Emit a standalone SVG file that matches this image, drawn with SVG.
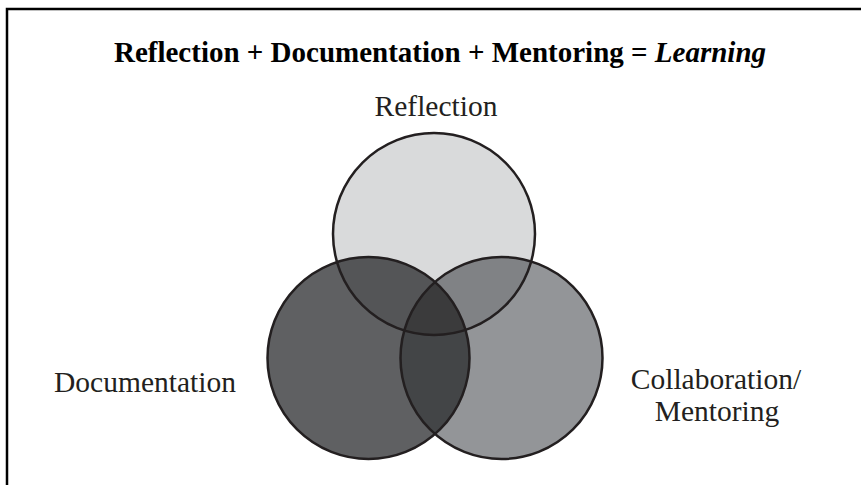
<svg xmlns="http://www.w3.org/2000/svg" width="861" height="485" viewBox="0 0 861 485">
<style>
.lbl{font-family:"Liberation Serif","Times New Roman",serif;font-size:29.5px;fill:#231f20;text-anchor:middle}
.ttl{font-family:"Liberation Serif","Times New Roman",serif;font-size:29px;font-weight:bold;fill:#000;text-anchor:middle}
.ring{fill:none;stroke:#231f20;stroke-width:2.5}
</style>
<defs>
<circle id="cT" cx="434" cy="234" r="101"/>
<circle id="cL" cx="368.5" cy="358" r="101"/>
<circle id="cR" cx="501.5" cy="358" r="101"/>
<clipPath id="clipT"><use href="#cT"/></clipPath>
<clipPath id="clipL"><use href="#cL"/></clipPath>
<clipPath id="clipR"><use href="#cR"/></clipPath>
</defs>
<rect width="861" height="485" fill="#fff"/>
<path d="M7,485 V9 H861" fill="none" stroke="#000" stroke-width="2.5"/>
<text class="ttl" x="440" y="62">Reflection + Documentation + Mentoring = <tspan font-style="italic">Learning</tspan></text>
<g id="documentation">
<use href="#cL" fill="#5f6062"/>
<text class="lbl" x="145" y="392">Documentation</text>
</g>
<g id="mentoring">
<use href="#cR" fill="#939598"/>
<text class="lbl" x="716" y="389">Collaboration/</text>
<text class="lbl" x="717" y="421">Mentoring</text>
</g>
<g id="reflection">
<use href="#cT" fill="#d9dadb"/>
<text class="lbl" x="436" y="116">Reflection</text>
</g>
<g id="overlaps">
<use href="#cT" fill="#545557" clip-path="url(#clipL)"/>
<use href="#cT" fill="#808285" clip-path="url(#clipR)"/>
<use href="#cL" fill="#434547" clip-path="url(#clipR)"/>
<g clip-path="url(#clipL)"><use href="#cT" fill="#3b3b3c" clip-path="url(#clipR)"/></g>
</g>
<g id="outlines">
<use href="#cL" class="ring"/>
<use href="#cR" class="ring"/>
<use href="#cT" class="ring"/>
</g>
</svg>
